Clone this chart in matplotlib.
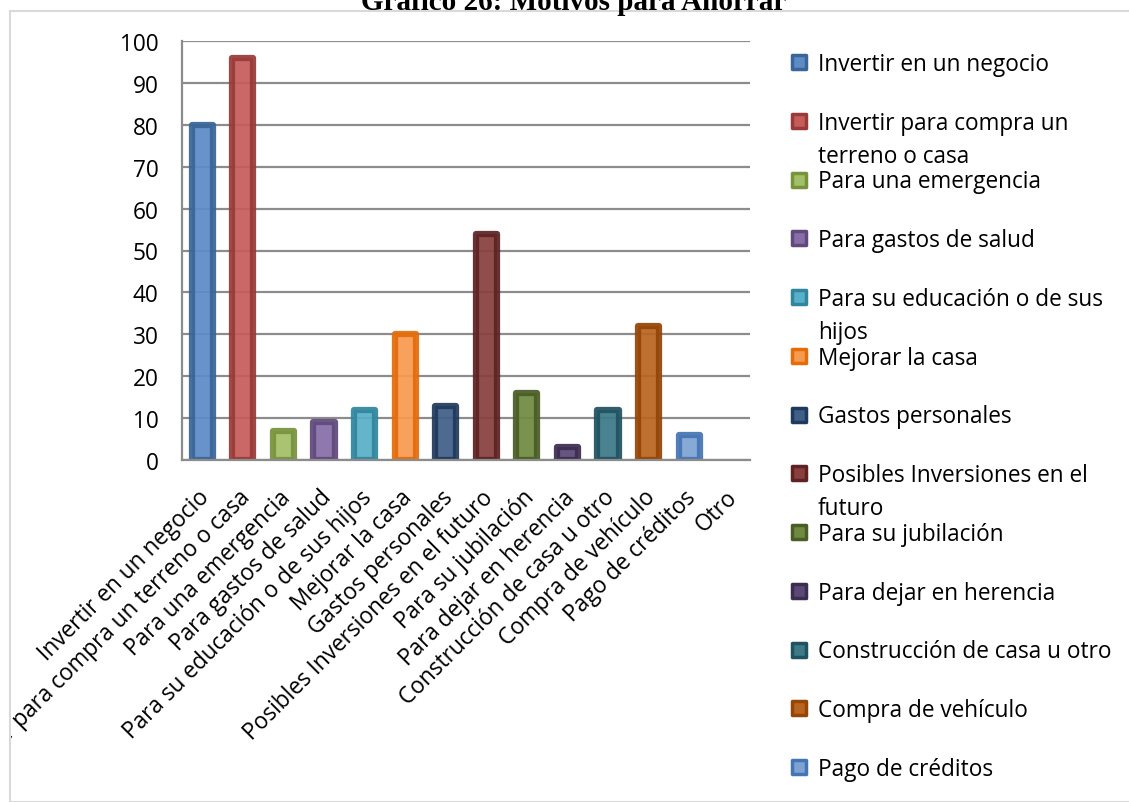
import textwrap
import numpy as np
import matplotlib
matplotlib.use('Agg')
import matplotlib.pyplot as plt
from matplotlib.patches import Rectangle
from matplotlib.transforms import ScaledTranslation

# savings motives and number of answers
motivos = ['Invertir en un negocio', 'Invertir para compra un terreno o casa',
           'Para una emergencia', 'Para gastos de salud',
           'Para su educación o de sus hijos', 'Mejorar la casa',
           'Gastos personales', 'Posibles Inversiones en el futuro',
           'Para su jubilación', 'Para dejar en herencia',
           'Construcción de casa u otro', 'Compra de vehículo',
           'Pago de créditos', 'Otro']
valores = [80, 96, 7, 9, 12, 30, 13, 54, 16, 3, 12, 32, 6, 0]

# outer (edge) and inner (fill) colour per bar
bordes = ['#3A6597', '#983A38', '#77933C', '#604A7B', '#31869D', '#E46C0A',
          '#213A5C', '#5E2222', '#4A5D26', '#3B2D50', '#20525F', '#944507',
          '#4675B4', '#B65E5C']
rellenos = ['#5D8BC6', '#C55C5A', '#A3BF68', '#876EA8', '#58AFC8', '#F79A50',
            '#405F88', '#87403E', '#6F8A40', '#5B4878', '#3D7987', '#B8651F',
            '#7EA3D2', '#D98A88']

plt.rcParams['font.family'] = ['Open Sans', 'DejaVu Sans']
FS = 16.3

fig = plt.figure(figsize=(11.29, 8.03), dpi=100)
W, H = 1129, 803

# chart area border
borde = Rectangle((10 / W, 0), 1.2, 1 - 12 / H, transform=fig.transFigure,
                  fill=False, edgecolor='#D9D9D9', linewidth=1.5)
fig.patches.append(borde)

fig.text(574 / W, 1 - 10 / H, 'Gráfico 26: Motivos para Ahorrar',
         family='Liberation Serif', weight='bold', fontsize=21,
         ha='center', va='baseline')

ax = fig.add_axes([182 / W, 1 - 461 / H, (750 - 182) / W, (461 - 42) / H])
x = np.arange(len(motivos))
for xi, v, f, b in zip(x, valores, rellenos, bordes):
    if v > 0:
        ax.bar(xi, v, width=0.52, facecolor=f, edgecolor=b, linewidth=4.5,
               joinstyle='round', alpha=0.93, zorder=2)

ax.set_xlim(-0.5, len(motivos) - 0.5)
ax.set_ylim(0, 100)
ax.set_yticks(range(0, 101, 10))
ax.yaxis.grid(True, color='#8C8C8C', linewidth=1.6, zorder=1)
ax.set_axisbelow(True)
for s in ['top', 'right']:
    ax.spines[s].set_visible(False)
for s in ['left', 'bottom']:
    ax.spines[s].set_color('#8C8C8C')
    ax.spines[s].set_linewidth(1.6)
    ax.spines[s].set_zorder(3)
ax.tick_params(axis='both', length=0, labelsize=FS)
ax.tick_params(axis='y', pad=17)
ax.tick_params(axis='x', pad=18)

ax.set_xticks(x)
ax.set_xticklabels(motivos, rotation=45, ha='right', va='top',
                   rotation_mode='anchor')
desplaza = ScaledTranslation(-5 / 100, 0, fig.dpi_scale_trans)
for lbl in ax.get_xticklabels():
    lbl.set_transform(lbl.get_transform() + desplaza)
    lbl.set_clip_on(True)
    lbl.set_clip_path(borde)

# legend drawn entry by entry on the right
y0, paso, salto = 63, 58.75, 33
for i, m in enumerate(motivos):
    yc = y0 + i * paso
    fig.patches.append(Rectangle((792 / W, 1 - (yc + 7) / H), 14 / W, 14 / H,
                                 transform=fig.transFigure,
                                 facecolor=rellenos[i], edgecolor=bordes[i],
                                 linewidth=2.5, joinstyle='round'))
    for k, linea in enumerate(textwrap.wrap(m, 27)):
        fig.text(818 / W, 1 - (yc + 8 + k * salto) / H, linea, fontsize=FS,
                 ha='left', va='baseline')

fig.savefig('out.png', dpi=100)
